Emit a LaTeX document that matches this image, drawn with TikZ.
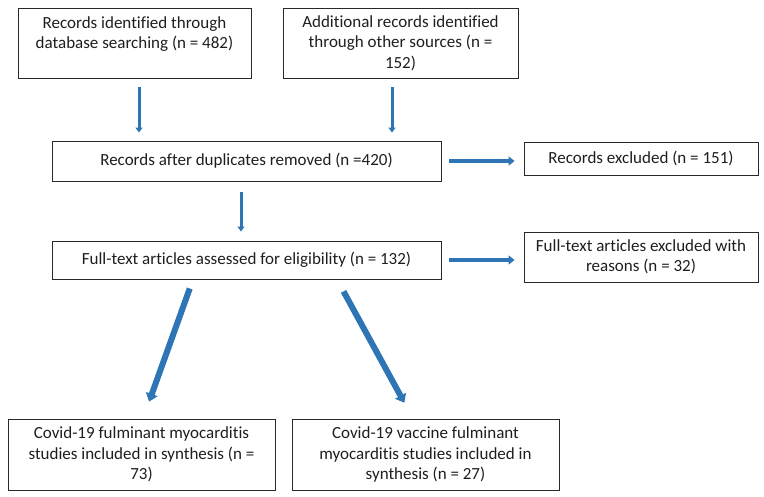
\documentclass[tikz,border=0pt]{standalone}
\usepackage{fontspec}
\setmainfont{Carlito}[Ligatures={NoCommon,NoRare}]
\usetikzlibrary{arrows.meta}
\definecolor{arrblue}{RGB}{46,117,182}
\definecolor{boxline}{RGB}{40,40,40}
\definecolor{boxtext}{RGB}{30,30,30}
\begin{document}
\begin{tikzpicture}[x=1pt,y=-1pt,
  box/.style={draw=boxline,line width=0.9pt,align=center,inner sep=0pt,text=boxtext,
    font=\fontsize{17}{20.5}\selectfont},
  arr/.style={draw=arrblue,line width=3pt,-{Triangle[width=7pt,length=5pt]}},
  harr/.style={draw=arrblue,line width=4.5pt,-{Triangle[width=9pt,length=6pt]}},
  darr/.style={draw=arrblue,line width=6pt,-{Triangle[width=12pt,length=8pt]}}]

      \useasboundingbox (0,0) rectangle (764,497);

      \node[box,minimum width=233pt,minimum height=70pt] (ident) at (134.5,43) {Records identified through\\database searching (n = 482)\\~};
      \node[box,minimum width=235pt,minimum height=70pt] (other) at (400.5,43) {Additional records identified\\through other sources (n =\\152)};
      \node[box,minimum width=389pt,minimum height=40pt] (dup) at (246.5,161) {Records after duplicates removed (n =420)};
      \node[box,minimum width=234pt,minimum height=33pt] (excl) at (641,158.5) {Records excluded (n = 151)};
      \node[box,minimum width=389pt,minimum height=38pt] (full) at (246.5,260) {Full-text articles assessed for eligibility (n = 132)};
      \node[box,minimum width=234pt,minimum height=50pt] (ftex) at (641,257) {Full-text articles excluded with\\reasons (n = 32)};
      \node[box,minimum width=267pt,minimum height=71pt] (covid) at (141.5,454.5) {Covid-19 fulminant myocarditis\\studies included in synthesis (n =\\73)};
      \node[box,minimum width=267pt,minimum height=71pt] (vacc) at (425.5,454.5) {Covid-19 vaccine fulminant\\myocarditis studies included in\\synthesis (n = 27)};

      \draw[arr,shorten <=9pt,shorten >=8pt] ([xshift=4.5pt]ident.south) -- ([xshift=4.5pt]ident.south |- dup.north);
      \draw[arr,shorten <=9pt,shorten >=8pt] ([xshift=-8.5pt]other.south) -- ([xshift=-8.5pt]other.south |- dup.north);
      \draw[arr,shorten <=11pt,shorten >=9pt] ([xshift=-5.5pt]dup.south) -- ([xshift=-5.5pt]dup.south |- full.north);
      \draw[harr,shorten <=8pt,shorten >=9pt] (dup.east) -- (dup.east -| excl.west);
      \draw[harr,shorten <=8pt,shorten >=9pt] (full.east) -- (full.east -| ftex.west);
      \draw[darr,shorten <=9.6pt,shorten >=18pt] ([xshift=-53.5pt]full.south) -- ([xshift=1.5pt]covid.north);
      \draw[darr,shorten <=13.6pt,shorten >=18pt] ([xshift=90.5pt]full.south) -- ([xshift=-12.5pt]vacc.north);

    \end{tikzpicture}
\end{document}
